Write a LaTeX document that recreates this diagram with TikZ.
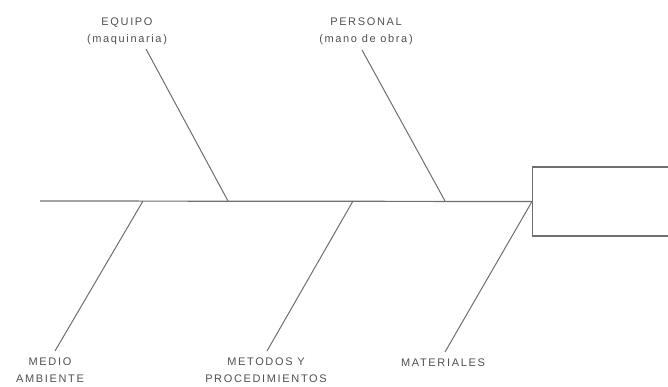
\documentclass[tikz,border=0pt]{standalone}
\usepackage{fontspec}
\setmainfont{Liberation Sans}
\usetikzlibrary{positioning}
\definecolor{fishgray}{RGB}{110,110,110}
\definecolor{labelgray}{RGB}{80,80,80}

\begin{document}
\begin{tikzpicture}[x=1pt, y=-1pt,
  every node/.style={font=\addfontfeature{LetterSpace=15}\fontsize{11}{17}\selectfont, text=labelgray, align=center, inner sep=0pt},
  bone/.style={draw=fishgray, line width=1.2pt},
  rib/.style={draw=fishgray, line width=1pt}]
  \useasboundingbox (0,0) rectangle (668,387);
  % head and spine
  \node[draw=fishgray, line width=1.2pt, anchor=west, minimum width=140pt, minimum height=69pt] (head) at (532,201.5) {};
  \coordinate (tail) at (40,201);
  \draw[bone] (tail) -- (head.west);
  % causes above
  \node (equipo) at (127,31) {EQUIPO\\(maquinaria)};
  \node (personal) at (366,31) {PERSONAL\\(mano de obra)};
  \coordinate (eqtop) at (146,49);
  \coordinate (eqspine) at (228,201);
  \coordinate (petop) at (362,50);
  \coordinate (pespine) at (445,201);
  \draw[rib] (eqtop) -- (eqspine);
  \draw[rib] (petop) -- (pespine);
  % causes below
  \node (medio) at (50,370) {MEDIO\\AMBIENTE};
  \node (metodos) at (266,370) {METODOS Y\\PROCEDIMIENTOS};
  \node (materiales) at (443,363) {MATERIALES};
  \coordinate (mespine) at (143,201);
  \coordinate (mebot) at (55,351);
  \coordinate (mtspine) at (353,201);
  \coordinate (mtbot) at (267,351);
  \coordinate (mabot) at (445,352);
  \draw[rib] (mespine) -- (mebot);
  \draw[rib] (mtspine) -- (mtbot);
  \draw[rib] (head.west) -- (mabot);
\end{tikzpicture}
\end{document}
